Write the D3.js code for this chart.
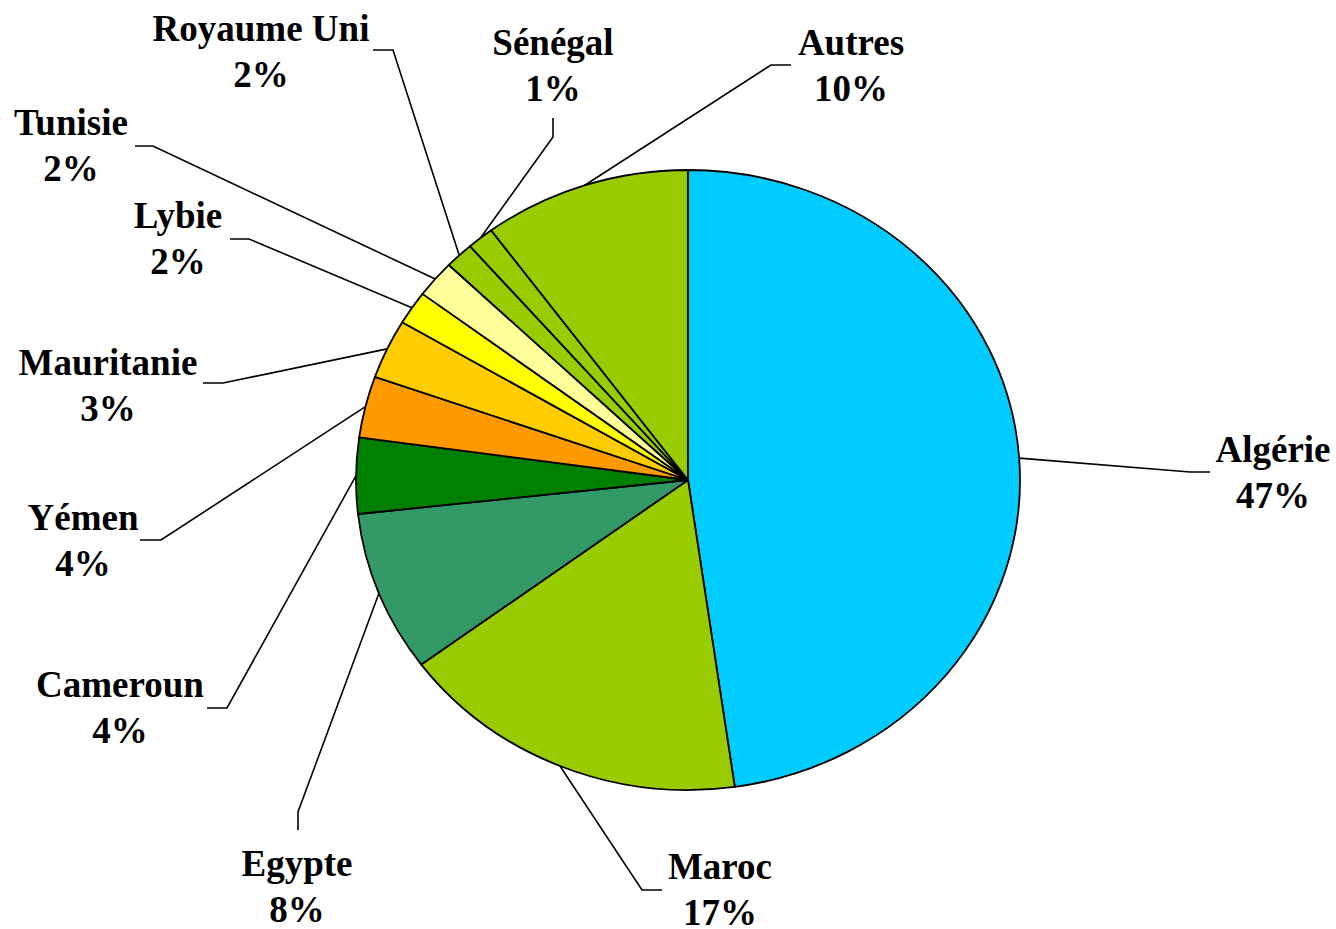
<!DOCTYPE html>
<html>
<head>
<meta charset="utf-8">
<script src="https://cdn.jsdelivr.net/npm/d3@7"></script>
<style>
  html, body { margin: 0; padding: 0; background: #fff; }
  text { font-family: "Liberation Serif", "Times New Roman", serif; font-weight: bold; font-size: 37px; fill: #000; }
</style>
</head>
<body>
<div id="root"></div>
<script>
// data (share of each slice, clockwise from 12 o'clock)
const countries = ['Algérie', 'Maroc', 'Egypte', 'Cameroun', 'Yémen', 'Mauritanie',
  'Lybie', 'Tunisie', 'Royaume Uni', 'Sénégal', 'Autres'];
const shares = [47.75, 17.1, 8.4, 3.95, 3.2, 3.1, 1.75, 1.95, 1.4, 1.3, 10.1];
const percentLabels = ['47%', '17%', '8%', '4%', '4%', '3%', '2%', '2%', '2%', '1%', '10%'];
const colors = ['#00CCFF', '#99CC00', '#339966', '#008000', '#FF9900', '#FFCC00',
  '#FFFF00', '#FFFF99', '#99CC00', '#99CC00', '#99CC00'];

// label layout: text centre x, first baseline y, bend of leader, end of leader
const labelLayout = [
  { x: 1273, y: 462, bend: [1190, 472], end: [1210, 472] },
  { x: 720, y: 879, bend: [642, 890], end: [662, 890] },
  { x: 297, y: 876, bend: [298, 812], end: [298, 830] },
  { x: 120, y: 697, bend: [227, 708], end: [207, 708] },
  { x: 83, y: 530, bend: [161, 540], end: [140, 540] },
  { x: 108, y: 375, bend: [223, 383], end: [203, 383] },
  { x: 178, y: 228, bend: [249, 239], end: [230, 239] },
  { x: 71, y: 135, bend: [153, 146], end: [135, 146] },
  { x: 261, y: 41, bend: [393, 50], end: [373, 50] },
  { x: 553, y: 55, bend: [553, 137], end: [553, 118] },
  { x: 851, y: 55, bend: [771, 65], end: [791, 65] }
];

const width = 1336, height = 929;
const cx = 688, cy = 480, rx = 332, ry = 310;
const lineGap = 46;

const svg = d3.select('#root').append('svg')
  .attr('width', width)
  .attr('height', height)
  .attr('viewBox', [0, 0, width, height]);

const pie = d3.pie().sort(null).value(d => d);
const arcs = pie(shares);

const arc = d3.arc().innerRadius(0).outerRadius(ry);

// slices drawn as a circle, stretched into the ellipse of the picture
const pieGroup = svg.append('g')
  .attr('transform', `translate(${cx},${cy}) scale(${rx / ry},1)`);

pieGroup.selectAll('path')
  .data(arcs)
  .join('path')
  .attr('d', arc)
  .attr('fill', (d, i) => colors[i])
  .attr('stroke', '#000')
  .attr('stroke-width', 1.8)
  .attr('stroke-linejoin', 'round')
  .attr('vector-effect', 'non-scaling-stroke');

// point on the rim at the middle of each slice
function rimPoint(d) {
  const a = (d.startAngle + d.endAngle) / 2;
  return [cx + rx * Math.sin(a), cy - ry * Math.cos(a)];
}

const line = d3.line();

svg.append('g').selectAll('path')
  .data(arcs)
  .join('path')
  .attr('d', (d, i) => line([rimPoint(d), labelLayout[i].bend, labelLayout[i].end]))
  .attr('fill', 'none')
  .attr('stroke', '#000')
  .attr('stroke-width', 1.6);

const labels = svg.append('g').selectAll('text')
  .data(arcs)
  .join('text')
  .attr('text-anchor', 'middle')
  .attr('x', (d, i) => labelLayout[i].x)
  .attr('y', (d, i) => labelLayout[i].y);

labels.append('tspan')
  .attr('x', (d, i) => labelLayout[i].x)
  .text((d, i) => countries[i]);

labels.append('tspan')
  .attr('x', (d, i) => labelLayout[i].x)
  .attr('dy', lineGap)
  .text((d, i) => percentLabels[i]);
</script>
</body>
</html>
